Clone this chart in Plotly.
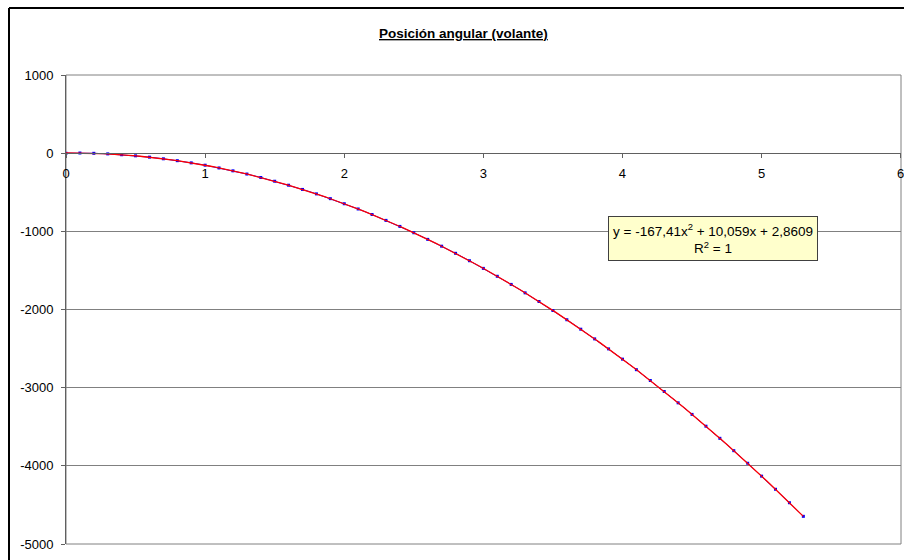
import numpy as np
import plotly.graph_objects as go

# Data (time vs. angular position)
x_vals = [0.0, 0.1, 0.2, 0.3, 0.4, 0.5, 0.6, 0.7, 0.8, 0.9,
          1.0, 1.1, 1.2, 1.3, 1.4, 1.5, 1.6, 1.7, 1.8, 1.9,
          2.0, 2.1, 2.2, 2.3, 2.4, 2.5, 2.6, 2.7, 2.8, 2.9,
          3.0, 3.1, 3.2, 3.3, 3.4, 3.5, 3.6, 3.7, 3.8, 3.9,
          4.0, 4.1, 4.2, 4.3, 4.4, 4.5, 4.6, 4.7, 4.8, 4.9,
          5.0, 5.1, 5.2, 5.3]
y_vals = [0, 2, -2, -9, -20, -34, -51, -72, -96, -124,
          -154, -189, -226, -267, -311, -359, -410, -464, -521, -582,
          -647, -714, -785, -860, -937, -1018, -1103, -1190, -1281, -1376,
          -1474, -1575, -1679, -1787, -1898, -2013, -2131, -2252, -2376, -2504,
          -2635, -2770, -2908, -3049, -3194, -3342, -3493, -3648, -3806, -3967,
          -4132, -4300, -4472, -4646]

title_text = "<b><u>Posición angular (volante)</u></b>"
eq_text = "y = -167,41x<sup>2</sup> + 10,059x + 2,8609<br>R<sup>2</sup> = 1"
x_ticks = [0, 1, 2, 3, 4, 5, 6]
y_ticks = [1000, 0, -1000, -2000, -3000, -4000, -5000]

# polynomial (order 2) trendline fitted to the data
coef = np.polyfit(x_vals, y_vals, 2)
xt = np.linspace(min(x_vals), max(x_vals), 200)
yt = np.polyval(coef, xt)

FONT = "Liberation Sans, Arial, sans-serif"
W, H = 904, 560
ml, mr, mt, mb = 66, 3, 75, 16
plot_w = W - ml - mr
plot_h = H - mt - mb

def px_x(px):
    return (px - ml) / plot_w

def px_y(py):
    return 1 - (py - mt) / plot_h

ymin, ymax = -5000, 1000
zero_frac = (0 - ymin) / (ymax - ymin)

fig = go.Figure()
fig.add_trace(go.Scatter(x=x_vals, y=y_vals, mode="lines+markers",
                         line=dict(color="#0000FF", width=1),
                         marker=dict(color="#0000FF", size=3, symbol="square"),
                         hoverinfo="skip", showlegend=False))
fig.add_trace(go.Scatter(x=xt, y=yt, mode="lines",
                         line=dict(color="#FF0000", width=1.3),
                         hoverinfo="skip", showlegend=False))

# outer chart border (left and top visible)
fig.add_shape(type="line", xref="paper", yref="paper",
              x0=px_x(9), x1=px_x(9), y0=px_y(570), y1=px_y(8),
              line=dict(color="black", width=2))
fig.add_shape(type="line", xref="paper", yref="paper",
              x0=px_x(9), x1=px_x(920), y0=px_y(8), y1=px_y(8),
              line=dict(color="black", width=2))
# plot area border
fig.add_shape(type="rect", xref="paper", yref="paper", x0=0, x1=1, y0=0, y1=1,
              line=dict(color="#808080", width=1), layer="below")

fig.add_annotation(xref="paper", yref="paper",
                   x=px_x(463), y=px_y(34), xanchor="center", yanchor="middle",
                   text=title_text, showarrow=False,
                   font=dict(family=FONT, size=13.5, color="black"))
fig.add_annotation(xref="paper", yref="paper",
                   x=px_x(713), y=px_y(239), xanchor="center", yanchor="middle",
                   text=eq_text, showarrow=False, align="center",
                   font=dict(family=FONT, size=13.5, color="black"),
                   bgcolor="#FFFFCC", bordercolor="#404040", borderwidth=1,
                   borderpad=4)

fig.update_layout(
    width=W, height=H,
    margin=dict(l=ml, r=mr, t=mt, b=mb, autoexpand=False),
    paper_bgcolor="white", plot_bgcolor="white",
    font=dict(family=FONT, size=13, color="black"),
    xaxis=dict(range=[0, 6.002], tickvals=x_ticks, ticktext=[str(v) for v in x_ticks],
               anchor="free", position=zero_frac, showgrid=False, zeroline=False,
               showline=True, linecolor="#606060", linewidth=1, automargin=False,
               ticks="outside", ticklen=4, tickcolor="#606060",
               ticklabeloverflow="allow",
               ticklabelstandoff=4, tickfont=dict(family=FONT, size=13, color="black")),
    yaxis=dict(range=[ymin, ymax], tickvals=y_ticks, ticktext=[str(v) for v in y_ticks],
               showgrid=True, gridcolor="#808080", gridwidth=1, zeroline=False,
               showline=True, linecolor="#606060", linewidth=1, automargin=False,
               ticks="outside", ticklen=4, tickcolor="#606060",
               ticklabeloverflow="allow",
               ticklabelstandoff=5, tickfont=dict(family=FONT, size=13, color="black")),
)

fig.write_html("out.html", config={"displayModeBar": False},
               post_script="document.body.style.margin='0';document.body.style.overflow='hidden';")
